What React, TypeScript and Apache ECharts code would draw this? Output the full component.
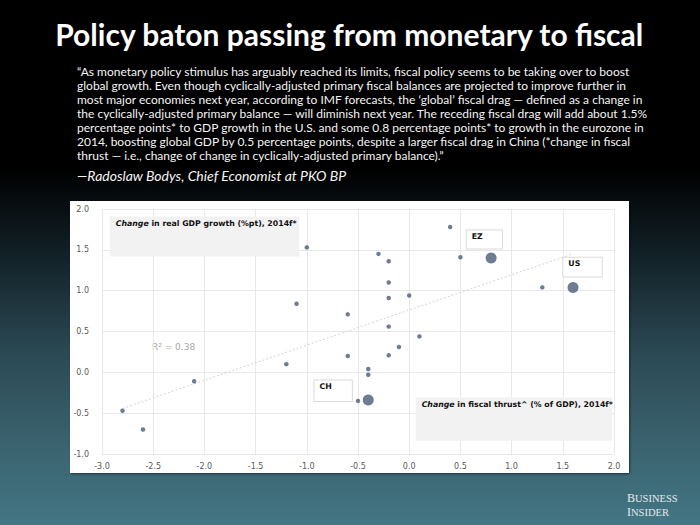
import React, { useEffect, useRef } from "react";
import * as echarts from "echarts";

const TITLE = "Policy baton passing from monetary to fiscal";
const QUOTE_LINES = [
  "“As monetary policy stimulus has arguably reached its limits, fiscal policy seems to be taking over to boost",
  "global growth. Even though cyclically-adjusted primary fiscal balances are projected to improve further in",
  "most major economies next year, according to IMF forecasts, the ‘global’ fiscal drag — defined as a change in",
  "the cyclically-adjusted primary balance — will diminish next year. The receding fiscal drag will add about 1.5%",
  "percentage points* to GDP growth in the U.S. and some 0.8 percentage points* to growth in the eurozone in",
  "2014, boosting global GDP by 0.5 percentage points, despite a larger fiscal drag in China (*change in fiscal",
  "thrust — i.e., change of change in cyclically-adjusted primary balance).”",
];
const ATTRIBUTION = "—Radoslaw Bodys, Chief Economist at PKO BP";

// Small points: other economies (change in fiscal thrust, change in real GDP growth)
const otherX = [0.4, -1.0, -0.3, -0.2, 0.5, -0.2, 1.3, 0.0, -0.2, -1.1, -0.6, -0.2, 0.1, -0.1, -0.6, -0.2, -1.2, -0.4, -0.4, -2.1, -0.5, -2.8, -2.6];
const otherY = [1.78, 1.53, 1.45, 1.36, 1.41, 1.10, 1.04, 0.94, 0.91, 0.84, 0.71, 0.56, 0.44, 0.31, 0.20, 0.21, 0.10, 0.04, -0.03, -0.11, -0.35, -0.47, -0.70];

// Highlighted economies
const majorNames = ["EZ", "US", "CH"];
const majorX = [0.8, 1.6, -0.4];
const majorY = [1.40, 1.04, -0.34];

const R2_TEXT = "R² = 0.38";
const Y_NOTE = "in real GDP growth (%pt), 2014f*";
const X_NOTE = "in fiscal thrust^ (% of GDP), 2014f*";
const NOTE_ITALIC = "Change";

const X_MIN = -3, X_MAX = 2, Y_MIN = -1, Y_MAX = 2, STEP = 0.5;

const POINT_COLOR = "#4b5b78";

function regression(xs: number[], ys: number[]) {
  const n = xs.length;
  const mx = xs.reduce((a, b) => a + b, 0) / n;
  const my = ys.reduce((a, b) => a + b, 0) / n;
  let sxy = 0, sxx = 0;
  for (let i = 0; i < n; i++) {
    sxy += (xs[i] - mx) * (ys[i] - my);
    sxx += (xs[i] - mx) ** 2;
  }
  const b = sxy / sxx;
  return { a: my - b * mx, b };
}

export default function App() {
  const ref = useRef<HTMLDivElement>(null);
  useEffect(() => {
    if (!ref.current) return;
    const chart = echarts.init(ref.current, undefined, { renderer: "svg" });
    const allX = [...otherX, ...majorX];
    const allY = [...otherY, ...majorY];
    const { a, b } = regression(allX, allY);
    const lx0 = Math.min(...allX);
    const lx1 = Math.max(...allX);

    const boxLabel = (txt: string) => ({
      show: true,
      position: "insideTopLeft",
      distance: 0,
      offset: [6, 3],
      formatter: txt,
      color: "#111",
      fontFamily: "DejaVu Sans",
      fontWeight: "bold",
      fontSize: 7.8,
      rich: {
        i: { fontStyle: "italic", fontWeight: "bold", fontFamily: "DejaVu Sans", fontSize: 7.8, color: "#111" },
      },
    });
    const grayBox = { color: "#f2f2f2", borderWidth: 0 };
    const whiteBox = { color: "#ffffff", borderColor: "#d9d9d9", borderWidth: 1 };

    chart.setOption({
      animation: false,
      backgroundColor: "transparent",
      graphic: [
        {
          type: "rect",
          z: -10,
          shape: { x: 70, y: 201, width: 559, height: 272 },
          style: { fill: "#ffffff", shadowBlur: 2, shadowOffsetX: 1, shadowOffsetY: 1, shadowColor: "rgba(0,0,0,0.5)" },
        },
        {
          type: "text",
          left: "center",
          top: 18.5,
          style: { text: TITLE, fill: "#ffffff", fontFamily: "Lato", fontWeight: "bold", fontSize: 30 },
        },
        {
          type: "text",
          left: 77,
          top: 64,
          style: { text: QUOTE_LINES.join("\n"), fill: "#f4f4f4", fontFamily: "Lato", fontSize: 12, lineHeight: 14 },
        },
        {
          type: "text",
          left: 77,
          top: 168,
          style: { text: ATTRIBUTION, fill: "#f4f4f4", fontFamily: "Lato", fontStyle: "italic", fontSize: 14 },
        },
        {
          type: "text",
          left: 152,
          top: 342,
          style: { text: R2_TEXT, fill: "#a6a6a6", fontFamily: "DejaVu Sans", fontSize: 9 },
        },
        {
          type: "text",
          left: 627,
          top: 491,
          style: {
            text: "{b|B}{s|USINESS}\n{b|I}{s|NSIDER}",
            fill: "#e4eaec",
            lineHeight: 14,
            rich: {
              b: { fontFamily: "Liberation Serif", fontSize: 12, fill: "#e4eaec", lineHeight: 14 },
              s: { fontFamily: "Liberation Serif", fontSize: 10.5, fill: "#e4eaec", lineHeight: 14 },
            },
          },
        },
      ],
      grid: { left: 102, right: 86, top: 209, bottom: 71 },
      xAxis: {
        type: "value",
        min: X_MIN,
        max: X_MAX,
        interval: STEP,
        axisLine: { show: false },
        axisTick: { show: false },
        splitLine: { lineStyle: { color: "#e8e8e8", width: 1 } },
        axisLabel: { color: "#595959", fontFamily: "DejaVu Sans", fontSize: 8, margin: 8, formatter: (v: number) => v.toFixed(1) },
      },
      yAxis: {
        type: "value",
        min: Y_MIN,
        max: Y_MAX,
        interval: STEP,
        axisLine: { show: false },
        axisTick: { show: false },
        splitLine: { lineStyle: { color: "#e8e8e8", width: 1 } },
        axisLabel: { color: "#595959", fontFamily: "DejaVu Sans", fontSize: 8, margin: 13, formatter: (v: number) => v.toFixed(1) },
      },
      series: [
        {
          type: "scatter",
          name: "boxes",
          symbolSize: 0,
          data: [],
          z: 1,
          markArea: {
            silent: true,
            data: [
              [
                { coord: [-2.924, 1.907], itemStyle: grayBox, label: boxLabel(`{i|${NOTE_ITALIC}} ${Y_NOTE}`) },
                { coord: [-1.074, 1.419] },
              ],
              [
                { coord: [0.063, -0.309], itemStyle: grayBox, label: boxLabel(`{i|${NOTE_ITALIC}} ${X_NOTE}`) },
                { coord: [1.982, -0.837] },
              ],
              [
                { coord: [0.557, 1.744], itemStyle: whiteBox, label: boxLabel(majorNames[0]) },
                { coord: [0.91, 1.51] },
              ],
              [
                { coord: [1.5, 1.41], itemStyle: whiteBox, label: boxLabel(majorNames[1]) },
                { coord: [1.885, 1.167] },
              ],
              [
                { coord: [-0.93, -0.094], itemStyle: whiteBox, label: boxLabel(majorNames[2]) },
                { coord: [-0.555, -0.358] },
              ],
            ],
          },
        },
        {
          type: "line",
          name: "trend",
          data: [
            [lx0, a + b * lx0],
            [lx1, a + b * lx1],
          ],
          symbol: "none",
          z: 2,
          lineStyle: { color: "#d2d2d2", width: 1, type: [2, 2] },
          silent: true,
        },
        {
          type: "scatter",
          name: "others",
          data: otherX.map((x, i) => [x, otherY[i]]),
          symbolSize: 4.5,
          itemStyle: { color: POINT_COLOR },
          z: 3,
        },
        {
          type: "scatter",
          name: "major",
          data: majorX.map((x, i) => [x, majorY[i], majorNames[i]]),
          symbolSize: 11,
          itemStyle: { color: POINT_COLOR },
          z: 3,
        },
      ],
    });
    return () => chart.dispose();
  }, []);

  return (
    <div
      style={{
        position: "absolute",
        left: 0,
        top: 0,
        width: 700,
        height: 525,
        background:
          "linear-gradient(to bottom, #000000 0%, #000000 32%, #14242b 50%, #2b4953 67%, #3a626e 84%, #437684 100%)",
      }}
    >
      <div ref={ref} style={{ width: 700, height: 525 }} />
    </div>
  );
}
